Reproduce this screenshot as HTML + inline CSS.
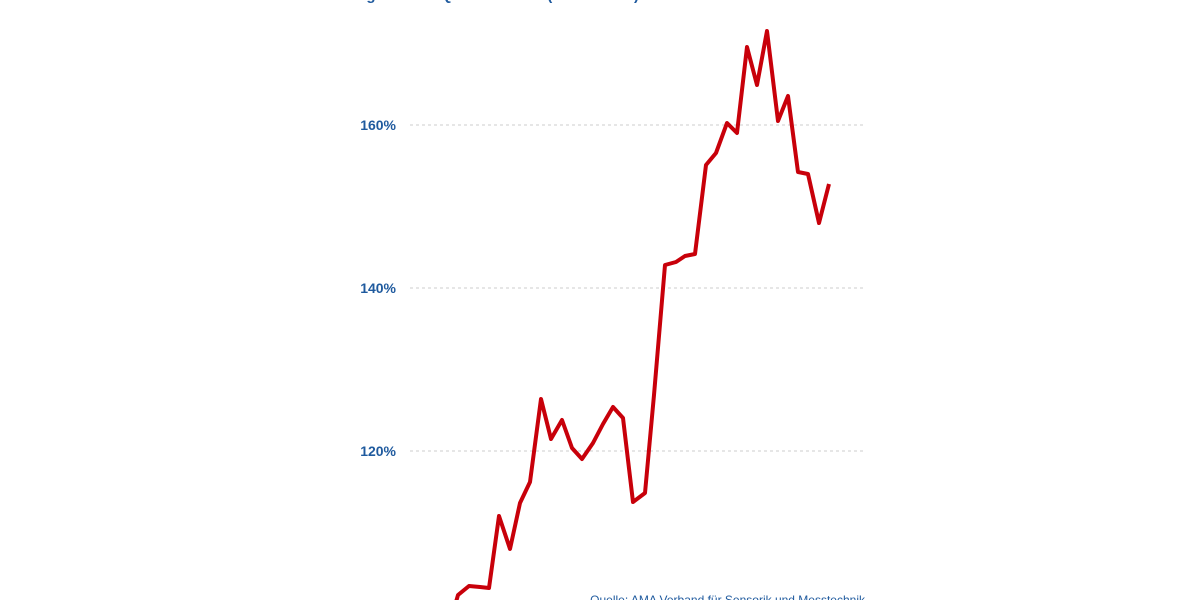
<!DOCTYPE html>
<html><head><meta charset="utf-8"><style>
body{margin:0;width:1200px;height:600px;overflow:hidden;background:#fff;font-family:"Liberation Sans",sans-serif}
</style></head><body>
<svg width="1200" height="600" xmlns="http://www.w3.org/2000/svg">
<text x="343" y="0" font-size="15" font-weight="bold" fill="#1f5a9e">Vergleich mit Quartal 1 2013 (Index 100%)</text>
<g stroke="#ccc" stroke-dasharray="3,3" stroke-width="1">
<line x1="410" y1="125" x2="866" y2="125"/>
<line x1="410" y1="288" x2="866" y2="288"/>
<line x1="410" y1="451" x2="866" y2="451"/>
</g>
<g font-size="14" font-weight="bold" fill="#1f5a9e" text-anchor="end">
<text x="396" y="130">160%</text>
<text x="396" y="293">140%</text>
<text x="396" y="456">120%</text>
</g>
<polyline fill="none" stroke="#c8000a" stroke-width="4" stroke-linejoin="round" points="456,602 458,595 469,586 480,587 489,588 499,516 510,549 520,503 530,482 541,399 551,439 562,420 572,448 582,459 593,443 603,424 613,407 623,418 633,502 645,493 654,395 665,265 676,262 685,256 695,254 706,165 716,153 727,123 737,133 747,47 757,85 767,31 778,121 788,96 798,172 808,174 819,223 829,184"/>
<text x="865" y="604" font-size="12" fill="#1f5a9e" text-anchor="end">Quelle: AMA Verband für Sensorik und Messtechnik</text>
</svg>
</body></html>
